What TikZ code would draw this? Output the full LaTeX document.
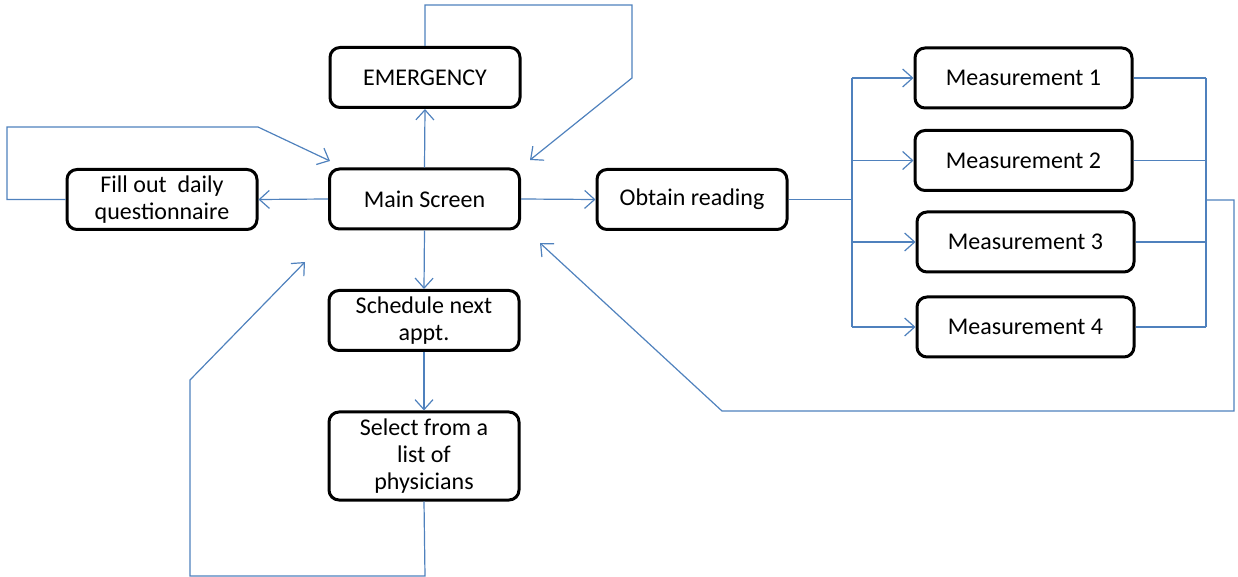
\documentclass[tikz,border=0pt]{standalone}
\usepackage{fontspec}
\setmainfont{Carlito}
\usepackage{xcolor}
\usepackage{tikz}
\usetikzlibrary{arrows.meta}
\definecolor{linkblue}{HTML}{4F81BD}
\tikzset{
  box/.style={draw=black, line width=1.5pt, rounded corners=5pt, fill=white,
    minimum width=95pt, minimum height=30pt, align=center, inner sep=1pt,
    font=\fontsize{12}{13.5}\selectfont},
  link/.style={draw=linkblue, line width=0.6pt, -{Straight Barb[length=5pt,width=9pt]}},
  wire/.style={draw=linkblue, line width=0.6pt}
}
\begin{document}
\begin{tikzpicture}[x=0.5pt, y=-0.5pt]
                \useasboundingbox (0,0) rectangle (1238,577);
                % Boxes
                \node[box] (emergency) at (425,77.5) {EMERGENCY};
                \node[box] (main) at (424.5,199) {Main Screen};
                \node[box] (daily) at (162,199.5) {Fill out\ \ daily\\questionnaire};
                \node[box] (reading) at (692,199.5) {Obtain reading};
                \node[box] (sched) at (424,320.5) {Schedule next\\appt.};
                \node[box, minimum height=44pt] (select) at (424,456) {Select from a\\list of\\physicians};
                \node[box, minimum width=108.5pt] (meas1) at (1023.5,78) {Measurement 1};
                \node[box, minimum width=108.5pt] (meas2) at (1023.5,160.5) {Measurement 2};
                \node[box, minimum width=108.5pt] (meas3) at (1025.5,242) {Measurement 3};
                \node[box, minimum width=108.5pt] (meas4) at (1025.5,327) {Measurement 4};
                % Free ends of the return arrows
                \coordinate (emtip) at (530,160);
                \coordinate (dailytip) at (330,161);
                \coordinate (selecttip) at (305,262);
                \coordinate (meastip) at (540,243);
                % Main screen links
                \draw[link] (main.north) -- (emergency.south);
                \draw[link] (main.west) -- (daily.east);
                \draw[link] (main.east) -- (reading.west);
                \draw[link] (main.south) -- (sched.north);
                \draw[link] (sched.south) -- (select.north);
                % Loops back to main screen
                \draw[link] (emergency.north) |- (632,5) -- (632,78) -- (emtip);
                \draw[link] (daily.west) -- (7,199.5) |- (258,127) -- (dailytip);
                \draw[link] (select.south) -- (425,576) -| (190,380) -- (selecttip);
                % Measurements
                \draw[wire] (reading.east) -- (852,199.5);
                \draw[wire] (852,78) -- (852,327);
                \foreach \m in {1,...,4}
                  \draw[link] (852,0 |- meas\m.west) -- (meas\m.west);
                \foreach \m in {1,...,4}
                  \draw[wire] (meas\m.east) -- (1206,0 |- meas\m.east);
                \draw[wire] (1206,78) -- (1206,327);
                \draw[link] (1206,200) -- (1234,200) |- (722,411) -- (meastip);
            \end{tikzpicture}
\end{document}
